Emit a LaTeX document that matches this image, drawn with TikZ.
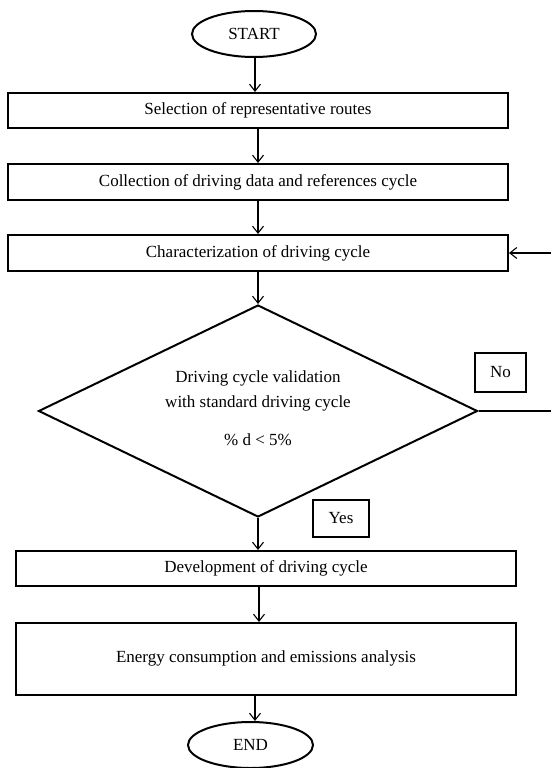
\documentclass[tikz,border=0pt]{standalone}
\usepackage{fontspec}
\setmainfont{Liberation Serif}
\usetikzlibrary{shapes.geometric,arrows.meta}
\begin{document}
\begin{tikzpicture}[x=1pt,y=-1pt,
  every node/.style={font=\fontsize{17}{25}\selectfont, inner sep=0pt},
  procbox/.style={draw, line width=2pt, rectangle, minimum width=500pt},
  term/.style={draw, line width=2pt, ellipse, minimum width=124pt, minimum height=46pt},
  labbox/.style={draw, line width=2pt, rectangle},
  flow/.style={line width=1.1pt, -{Straight Barb[length=7pt,width=11pt,line width=1.1pt]}},
  plain/.style={line width=1.1pt}]
\useasboundingbox (0,0) rectangle (551,768);

\node[term] (start) at (254,34) {START};
\node[procbox, minimum height=35pt] (b1) at (258,110.5) {Selection of representative routes};
\node[procbox, minimum height=36pt] (b2) at (258,182) {Collection of driving data and references cycle};
\node[procbox, minimum height=36pt] (b3) at (258,253) {Characterization of driving cycle};
\node[draw, line width=2pt, diamond, minimum width=439pt, minimum height=212pt] (dia) at (258,411) {};
\node[align=center] (diatext) at (258,408) {Driving cycle validation\\with standard driving cycle\\[13pt]\% d < 5\%};
\node[labbox, minimum width=51pt, minimum height=39pt] (no) at (500.5,372.5) {No};
\node[labbox, minimum width=56pt, minimum height=37pt] (yes) at (341,518.5) {Yes};
\node[procbox, minimum height=35pt] (b4) at (266,568.5) {Development of driving cycle};
\node[procbox, minimum height=72pt] (b5) at (266,659) {\raisebox{5pt}{Energy consumption and emissions analysis}};
\node[term, minimum width=125pt] (end) at (250.5,745) {END};

\coordinate (rtop) at (551,253);
\coordinate (rbot) at (551,411);

\draw[flow] (start.south -| 255,0) -- (b1.north -| 255,0);
\draw[flow] (b1.south -| 258,0) -- (b2.north -| 258,0);
\draw[flow] (b2.south -| 258,0) -- (b3.north -| 258,0);
\draw[flow] (b3.south -| 258,0) -- (dia.north);
\draw[flow] (dia.south) -- (b4.north -| dia.south);
\draw[flow] (b4.south -| 259,0) -- (b5.north -| 259,0);
\draw[flow] (b5.south -| 255,0) -- (end.north -| 255,0);
\draw[plain] (dia.east) -- (rbot);
\draw[flow] (rtop) -- (b3.east);
\end{tikzpicture}
\end{document}
